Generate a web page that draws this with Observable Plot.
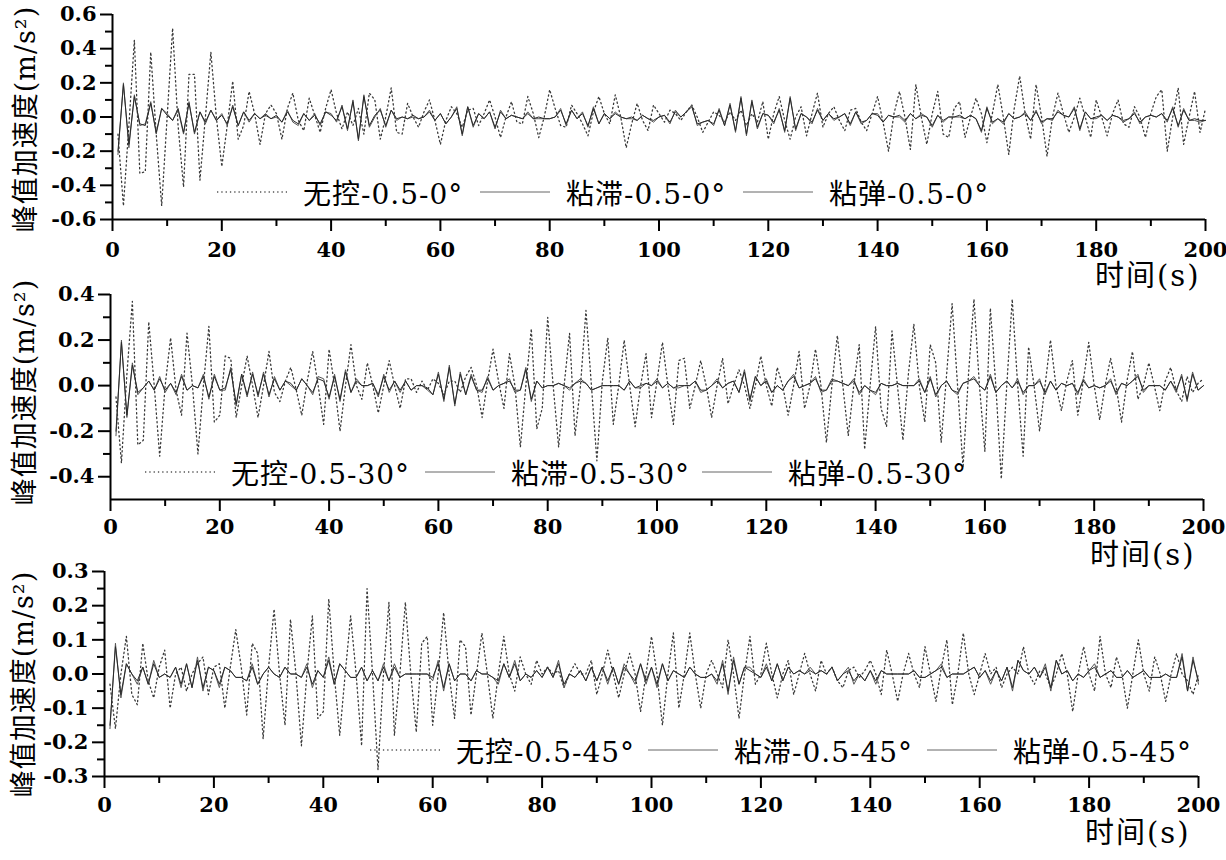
<!DOCTYPE html>
<html>
<head>
<meta charset="utf-8">
<script src="https://cdn.jsdelivr.net/npm/d3@7"></script>
<script src="https://cdn.jsdelivr.net/npm/@observablehq/plot@0.6"></script>
<style>
  html, body { margin: 0; padding: 0; background: #fff; width: 1226px; height: 860px; overflow: hidden; }
  #root { position: relative; width: 1226px; height: 860px; }
  .panel { position: absolute; left: 0; }
  .legend-item { position: absolute; display: flex; align-items: center; height: 40px; white-space: nowrap; }
  .legend-item span { margin-left: 16px; font-family: 'DejaVu Serif', 'Noto Sans CJK SC', serif; font-size: 28px; color: #000; letter-spacing: 1px; }
</style>
</head>
<body>
<div id="root"></div>
<script>
// ---------- data (values in m/s², sampled every 1 s from t = 1 s) ----------
const xMajorTicks = [0, 20, 40, 60, 80, 100, 120, 140, 160, 180, 200];
const xMinorTicks = [10, 30, 50, 70, 90, 110, 130, 150, 170, 190];
const xLabel = "时间(s)";
const yLabel = "峰值加速度(m/s²)";
const seriesNames = ["无控", "粘滞", "粘弹"];

const legend1 = ["无控-0.5-0°", "粘滞-0.5-0°", "粘弹-0.5-0°"];
const legend2 = ["无控-0.5-30°", "粘滞-0.5-30°", "粘弹-0.5-30°"];
const legend3 = ["无控-0.5-45°", "粘滞-0.5-45°", "粘弹-0.5-45°"];

const yTicks1 = [-0.6, -0.4, -0.2, 0, 0.2, 0.4, 0.6];
const yMinor1 = [-0.5, -0.3, -0.1, 0.1, 0.3, 0.5];
const yTicks2 = [-0.4, -0.2, 0, 0.2, 0.4];
const yMinor2 = [-0.3, -0.1, 0.1, 0.3];
const yTicks3 = [-0.3, -0.2, -0.1, 0, 0.1, 0.2, 0.3];
const yMinor3 = [-0.25, -0.15, -0.05, 0.05, 0.15, 0.25];

// Panel 1 : 0.5 - 0°
const p1None = [
-.1,-.52,-.05,.45,-.33,-.32,.38,-.1,-.52,0,
.52,-.05,-.41,.25,.25,-.37,0,.38,0,-.29,
-.05,.21,-.13,-.05,.15,.02,-.16,.02,.07,.02,
-.13,.05,.14,-.02,-.08,.11,.01,-.09,.05,.16,
.02,-.07,.03,-.05,.05,-.1,.14,.1,-.13,0,
.17,-.09,-.1,.08,0,-.06,.03,.1,-.02,-.16,
-.02,.06,.02,-.06,.04,.05,-.05,.02,.1,0,
-.12,0,.09,-.03,-.04,.12,.02,-.12,0,.16,
.05,-.05,-.06,.07,.02,-.04,-.11,.03,.12,.02,
-.04,.13,0,-.18,-.04,.08,-.02,-.08,.07,.02,
-.03,.04,.02,-.02,.03,.07,0,-.09,-.03,.03,
.01,-.03,.03,-.02,.04,-.05,.02,-.03,.09,-.13,
.02,.12,-.02,-.13,0,.06,-.11,.02,.14,-.06,
.02,.06,-.02,-.08,.04,.05,-.03,-.08,.02,.12,
-.03,-.2,.02,.15,0,-.19,.19,0,-.16,.02,
.15,-.1,-.12,.05,.09,-.12,0,.11,.02,-.15,
.02,.19,0,-.22,.05,.24,.02,-.13,.19,0,
-.23,0,.14,.02,-.09,0,.11,0,-.12,.1,
0,-.11,.02,.1,-.04,-.06,.06,0,-.12,.02,
.12,.16,-.2,0,.17,-.16,0,.15,-.09,.05];
const p1Visc = [
-.22,.2,-.18,.13,-.05,-.04,.09,-.1,.05,.02,
-.02,.04,-.1,.09,-.1,.03,-.04,.04,-.02,.02,
-.05,.07,-.05,.03,-.03,.02,-.01,.02,-.01,0,
-.03,.04,-.03,-.05,.02,-.02,.02,-.05,.03,.02,
-.03,.07,-.08,.1,-.14,.13,-.06,0,.05,-.06,
.04,-.02,0,-.01,0,-.01,0,.04,-.02,.02,
-.04,0,.06,-.11,.06,-.06,.02,-.01,.03,-.07,
.04,-.01,.01,0,-.01,.03,-.01,-.01,-.01,-.01,
0,.05,-.05,.04,-.01,.03,-.06,.06,-.04,.02,
-.01,.03,0,-.01,-.01,-.02,.01,-.01,-.03,0,
.01,-.04,.04,0,.03,.07,-.05,-.03,-.02,-.05,
.05,-.05,.08,-.09,.12,-.11,.1,-.07,.02,.01,
-.04,.05,-.09,.12,-.08,.02,0,-.04,.05,-.02,
.02,-.02,0,.02,-.05,.03,-.04,-.02,.02,.02,
-.03,.01,0,0,-.03,.02,-.01,.02,0,-.06,
.01,-.03,0,0,0,-.01,.01,-.01,-.09,.06,
-.04,-.01,-.04,.02,-.01,0,.03,-.02,.04,-.04,
-.01,-.02,.04,.01,0,.06,-.08,.03,-.01,-.01,
.01,-.02,.01,0,-.03,-.01,.03,-.04,0,.01,
0,.02,-.03,.06,-.06,.05,-.02,-.02,-.03,-.02];
const p1Ve = [
-.2,.19,-.16,.12,-.04,-.05,.08,-.09,.05,.01,
-.02,.05,-.09,.08,-.09,.03,-.03,.04,-.02,.01,
-.04,.06,-.05,.03,-.02,.02,-.01,.01,-.01,.01,
-.03,.03,-.02,-.04,.02,-.02,.01,-.04,.03,.01,
-.02,.06,-.07,.09,-.13,.12,-.05,.01,.04,-.05,
.04,-.01,0,-.01,.01,-.01,0,.03,-.02,.02,
-.04,0,.05,-.1,.06,-.05,.02,-.01,.03,-.06,
.03,-.01,.01,0,-.01,.02,-.01,0,-.01,-.01,
0,.04,-.04,.04,-.01,.02,-.05,.05,-.04,.02,
-.01,.02,0,-.01,0,-.02,.01,-.01,-.02,0,
.01,-.03,.03,0,.03,.06,-.04,-.03,-.02,-.04,
.04,-.05,.07,-.08,.11,-.1,.09,-.06,.02,.01,
-.03,.04,-.08,.11,-.07,.02,0,-.03,.04,-.02,
.02,-.01,0,.02,-.04,.03,-.03,-.02,.02,.01,
-.03,.01,0,.01,-.02,.02,-.01,.01,0,-.05,
.01,-.02,0,0,.01,-.01,.01,-.01,-.08,.05,
-.03,-.01,-.03,.02,-.01,0,.02,-.02,.03,-.03,
-.01,-.01,.03,.01,0,.05,-.07,.03,-.01,0,
.01,-.02,.01,0,-.02,-.01,.02,-.03,0,.01,
0,.02,-.02,.05,-.05,.04,-.02,-.01,-.02,-.02];

// Panel 2 : 0.5 - 30°
const p2None = [
-.05,-.34,.05,.37,-.26,-.24,.28,0,-.31,0,
.21,-.02,-.13,.23,0,-.3,0,.26,-.16,-.13,
.13,.12,-.14,0,.13,0,-.14,0,.15,-.03,
-.07,.02,.08,-.02,-.13,.02,.15,0,-.17,.16,
0,-.2,0,.18,0,-.06,.1,0,-.12,0,
.11,0,-.1,.03,.03,-.03,.02,-.02,.03,.01,
-.04,.02,.02,-.03,.04,.08,0,-.14,.02,.16,
.02,-.1,.14,0,-.27,0,.25,-.19,-.1,.3,
0,-.27,0,.23,-.22,0,.33,0,-.33,.02,
.21,-.17,0,.2,0,-.18,0,.14,-.14,.02,
.19,0,-.17,.11,.12,-.1,0,.11,0,-.14,
0,.12,-.08,0,.07,0,-.1,0,.13,0,
-.09,.08,0,-.13,0,.15,-.1,0,.16,0,
-.25,0,.22,0,-.22,0,.18,-.28,0,.26,
-.1,-.18,.24,0,-.24,.05,.27,0,-.16,.18,
.1,-.25,.05,.36,0,-.36,.05,.38,0,-.29,
.34,0,-.41,0,.38,0,-.31,.17,0,-.2,
0,.2,0,-.11,.02,.11,-.13,.02,.19,0,
-.15,0,.12,0,-.16,.02,.15,-.06,0,.1,
0,-.11,.02,.08,-.02,-.07,.04,-.03,.01,.03];
const p2Visc = [
-.22,.2,-.14,.1,-.04,-.01,.02,-.02,.04,-.03,
.01,-.04,.05,-.02,0,-.01,.05,-.06,.05,-.02,
-.02,.08,-.09,.05,-.05,.06,-.05,.06,-.05,.04,
-.02,.02,0,-.02,.03,0,-.04,.04,.03,-.06,
.05,-.07,.07,-.03,.03,0,0,.01,-.05,.05,
-.03,.02,-.03,.02,-.02,0,0,-.02,-.04,.06,
-.07,.09,-.09,.06,-.04,.05,-.02,-.03,.04,-.02,
0,.01,.03,-.03,-.02,.08,-.07,.02,-.01,0,
0,.01,0,-.02,.01,.03,.01,-.02,-.01,0,
0,0,0,-.02,.02,-.01,-.01,.01,0,.03,
-.01,.01,-.01,-.01,0,0,.02,-.03,-.02,0,
.03,-.01,.01,.02,-.03,.07,-.07,.04,0,.03,
-.03,0,-.02,.02,.05,-.01,0,.01,.04,-.03,
-.02,.03,.02,.01,0,.03,-.04,0,-.02,-.04,
.01,0,0,.01,0,0,0,.03,-.03,.04,
-.05,0,.02,-.02,-.04,.01,.02,.04,0,-.02,
.05,-.03,0,.02,-.01,.03,-.04,0,0,.03,
-.04,.02,-.02,.01,0,.01,-.04,.03,-.01,0,
-.01,0,.03,-.04,.01,0,.02,.05,-.03,0,
0,0,-.02,.02,-.03,.05,-.07,.06,-.02,0];
const p2Ve = [
-.2,.19,-.13,.09,-.03,-.01,.02,-.02,.03,-.02,
.01,-.03,.04,-.02,0,-.01,.04,-.05,.04,-.02,
-.01,.07,-.08,.05,-.04,.05,-.04,.05,-.04,.03,
-.02,.02,.01,-.02,.03,0,-.03,.03,.02,-.05,
.04,-.06,.06,-.03,.02,0,0,.01,-.04,.04,
-.02,.02,-.02,.02,-.02,0,0,-.01,-.04,.05,
-.06,.08,-.08,.05,-.04,.04,-.02,-.02,.03,-.02,
0,.01,.02,-.02,-.02,.07,-.06,.02,-.01,0,
0,.01,0,-.01,.01,.02,.01,-.02,-.01,0,
0,0,0,-.02,.02,-.01,0,.01,0,.02,
-.01,.01,-.01,0,0,0,.02,-.02,-.02,0,
.02,-.01,.01,.02,-.03,.06,-.06,.04,0,.02,
-.03,0,-.02,.02,.04,-.01,0,.01,.03,-.02,
-.02,.02,.02,.01,0,.02,-.03,0,-.02,-.03,
.01,0,0,.01,0,0,0,.02,-.03,.03,
-.04,0,.02,-.02,-.03,.01,.02,.03,0,-.02,
.04,-.03,0,.02,-.01,.02,-.03,0,0,.02,
-.03,.02,-.02,.01,0,.01,-.03,.02,-.01,0,
-.01,0,.02,-.03,.01,0,.02,.04,-.02,0,
0,0,-.02,.02,-.02,.04,-.06,.05,-.02,0];

// Panel 3 : 0.5 - 45°
const p3None = [
-.03,-.16,0,.11,-.06,-.09,.09,-.02,-.07,.02,
.07,-.1,0,.02,-.05,0,.03,.05,-.06,.02,
.03,-.1,.02,.13,.02,-.12,.09,.06,-.19,.02,
.19,0,-.15,.16,0,-.21,0,.17,-.13,-.11,
.22,0,-.18,0,.17,0,-.21,.25,0,-.28,
0,.21,-.18,0,.21,0,-.17,.09,.11,-.15,
0,.18,0,-.13,.1,.08,-.12,0,.12,0,
-.13,0,.11,0,-.05,.05,0,-.03,.04,0,
.02,0,.01,-.04,0,.03,0,0,.04,-.06,
0,.07,0,-.07,0,.06,0,-.11,0,.11,
0,-.15,0,.12,-.1,0,.12,0,-.1,0,
.04,0,-.04,.1,0,-.13,0,.11,-.03,0,
.09,0,-.07,0,.04,-.06,0,.06,0,-.05,
.04,0,.02,-.02,-.04,.01,.02,-.01,.01,.04,
0,-.06,.07,0,-.08,0,.06,0,-.04,.08,
0,-.08,.02,.1,-.09,0,.12,0,-.06,0,
.06,0,.02,-.04,0,.02,0,.08,0,-.03,
.01,0,-.04,0,.06,0,-.11,0,.08,0,
-.05,.11,0,-.04,.05,0,-.1,0,.1,0,
-.05,.05,0,-.08,0,.06,0,-.02,-.06,0];
const p3Visc = [
-.16,.09,-.07,.03,0,-.03,.02,-.03,.04,-.01,
0,-.01,.02,-.04,.03,-.04,.05,-.05,.02,.01,
-.04,.02,.01,-.01,-.01,-.02,.03,-.03,0,.02,
0,-.01,.02,0,0,-.01,.03,-.04,.01,-.01,
.05,-.03,.03,.01,-.01,-.01,.02,-.02,.01,-.02,
.03,-.02,.03,-.01,0,0,0,0,0,-.02,
.04,-.05,.03,-.02,0,0,-.02,.01,0,0,
-.01,-.03,.03,-.01,.04,-.02,0,-.01,.01,-.01,
.02,-.01,.04,-.04,0,-.01,.01,-.02,.02,-.02,
.02,-.03,.02,-.03,.03,0,-.03,.03,-.03,.02,
-.04,.03,-.02,.01,0,-.01,.02,0,-.01,-.01,
0,-.03,.04,-.06,.05,-.03,.02,.02,0,-.01,
.03,-.02,.03,-.02,.02,0,.01,0,.02,0,
.01,0,.02,-.02,0,.02,-.03,0,-.02,.01,
-.03,.01,0,0,0,0,0,.01,-.01,-.01,
0,.01,.03,-.01,0,0,0,.01,.02,-.01,
.01,-.03,.01,-.02,.02,-.05,.04,.01,0,.02,
-.01,.03,-.05,.04,0,.01,-.02,0,-.01,.01,
.03,-.01,0,.01,-.01,-.01,.01,-.01,0,.01,
-.01,-.01,-.01,0,-.01,-.01,.06,-.05,.05,-.03];
const p3Ve = [
-.15,.08,-.06,.03,0,-.02,.02,-.03,.03,-.01,
0,-.01,.02,-.03,.03,-.04,.04,-.04,.02,.01,
-.03,.02,.01,-.01,-.01,-.02,.02,-.03,0,.02,
0,-.01,.02,0,0,-.01,.02,-.03,.01,-.01,
.04,-.03,.03,.01,-.01,-.01,.02,-.02,.01,-.02,
.02,-.02,.02,-.01,0,0,0,0,0,-.01,
.03,-.04,.03,-.02,0,0,-.02,.01,0,0,
-.01,-.02,.03,-.01,.03,-.02,0,-.01,.01,-.01,
.02,-.01,.03,-.03,0,-.01,.01,-.02,.02,-.02,
.02,-.02,.02,-.03,.02,0,-.02,.03,-.02,.02,
-.03,.03,-.02,.01,0,-.01,.02,0,-.01,-.01,
0,-.02,.03,-.05,.04,-.03,.02,.01,0,-.01,
.02,-.02,.03,-.02,.02,0,.01,0,.01,0,
.01,0,.02,-.02,0,.01,-.02,0,-.02,.01,
-.02,.01,0,0,0,0,0,.01,-.01,-.01,
0,.01,.02,-.01,0,0,0,.01,.02,-.01,
.01,-.02,.01,-.02,.02,-.04,.04,.01,0,.02,
-.01,.02,-.04,.04,0,.01,-.02,0,-.01,.01,
.02,-.01,0,.01,-.01,-.01,.01,-.01,0,.01,
-.01,-.01,-.01,0,-.01,-.01,.05,-.05,.04,-.02];

// ---------- drawing ----------
const toRows = (vals, name) => vals.map((v, i) => ({t: i + 1, v, series: name}));

const panels = [
  {top: 0, height: 300, mt: 14, mb: 81, ml: 112, mr: 21, yDomain: [-0.6, 0.6], yMajor: yTicks1, yMinor: yMinor1,
   data: [p1None, p1Visc, p1Ve], legend: legend1, tickPad: 11, yl: [-86, 2], xl: [-5, 66],
   legendY: 192, legendX: [217, 480, 743]},
  {top: 270, height: 310, mt: 24, mb: 81, ml: 110, mr: 23, yDomain: [-0.5, 0.4], yMajor: yTicks2, yMinor: yMinor2,
   data: [p2None, p2Visc, p2Ve], legend: legend2, tickPad: 8, yl: [-85, -5], xl: [-8, 65],
   legendY: 472, legendX: [145, 425, 702]},
  {top: 550, height: 310, mt: 21, mb: 84, ml: 104, mr: 28, yDomain: [-0.3, 0.3], yMajor: yTicks3, yMinor: yMinor3,
   data: [p3None, p3Visc, p3Ve], legend: legend3, tickPad: 9, yl: [-80, 10], xl: [-8, 66],
   legendY: 750, legendX: [370, 648, 927]}
];

const root = document.getElementById("root");
const cjkFont = "'DejaVu Serif', 'Noto Sans CJK SC', serif";

panels.forEach((p) => {
  const [none, visc, ve] = p.data;
  const chart = Plot.plot({
    width: 1226,
    height: p.height,
    marginTop: p.mt, marginBottom: p.mb, marginLeft: p.ml, marginRight: p.mr,
    style: {background: "transparent", fontFamily: "'DejaVu Serif', serif", fontSize: "21px", fontWeight: "bold", color: "#000", overflow: "visible"},
    x: {domain: [0, 200], label: null},
    y: {domain: p.yDomain, label: null},
    marks: [
      Plot.line(toRows(none, seriesNames[0]), {x: "t", y: "v", stroke: "#3a3a3a", strokeWidth: 1.3, strokeDasharray: "1.3,3"}),
      Plot.line(toRows(visc, seriesNames[1]), {x: "t", y: "v", stroke: "#555", strokeWidth: 1}),
      Plot.line(toRows(ve, seriesNames[2]), {x: "t", y: "v", stroke: "#2a2a2a", strokeWidth: 1}),
      Plot.axisX(xMajorTicks, {tickSize: 12, tickPadding: p.tickPad, strokeWidth: 2, tickFormat: d => String(d), label: null}),
      Plot.axisX(xMinorTicks, {tickSize: 7, strokeWidth: 2, tickFormat: () => "", label: null}),
      Plot.axisY(p.yMajor, {tickSize: 12, tickPadding: 4, strokeWidth: 2, tickFormat: d => d.toFixed(1), label: null}),
      Plot.axisY(p.yMinor, {tickSize: 7, strokeWidth: 2, tickFormat: () => "", label: null}),
      Plot.ruleY([p.yDomain[0]], {strokeWidth: 2, stroke: "#000"}),
      Plot.ruleX([0], {strokeWidth: 2, stroke: "#000"}),
      Plot.text([yLabel], {text: d => d, frameAnchor: "left", textAnchor: "middle", rotate: -90, dx: p.yl[0], dy: p.yl[1],
        fontSize: 27, fontWeight: "normal", fontFamily: cjkFont, fill: "#000"}),
      Plot.text([xLabel], {text: d => d, frameAnchor: "bottom-right", textAnchor: "end", dx: p.xl[0], dy: p.xl[1],
        fontSize: 29, fontWeight: "normal", fontFamily: cjkFont, fill: "#000"})
    ]
  });
  // spacing of the axis-title letters, as in the original
  d3.select(chart).selectAll("text")
    .filter(function () { return this.textContent === yLabel; })
    .style("letter-spacing", "1px");
  d3.select(chart).selectAll("text")
    .filter(function () { return this.textContent === xLabel; })
    .style("letter-spacing", "2px");

  const wrap = document.createElement("div");
  wrap.className = "panel";
  wrap.style.top = p.top + "px";
  wrap.appendChild(chart);
  root.appendChild(wrap);

  // legend (inside the plot area, as in the original)
  p.legend.forEach((label, i) => {
    const item = document.createElement("div");
    item.className = "legend-item";
    item.style.left = p.legendX[i] + "px";
    item.style.top = (p.legendY - 20) + "px";
    const dash = i === 0 ? 'stroke-dasharray="1.3,3" stroke="#555" stroke-width="1.3"' : 'stroke="#666" stroke-width="1"';
    item.innerHTML = `<svg width="70" height="6"><line x1="0" x2="70" y1="3" y2="3" ${dash}/></svg><span>${label}</span>`;
    root.appendChild(item);
  });
});
</script>
</body>
</html>
